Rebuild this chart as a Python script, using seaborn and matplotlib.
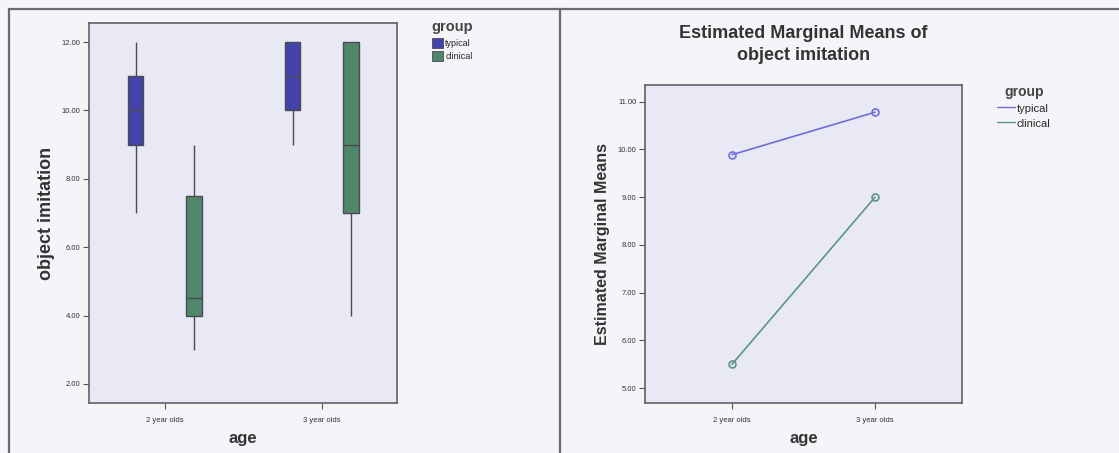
import numpy as np
import pandas as pd
import matplotlib
matplotlib.use("Agg")
import matplotlib.pyplot as plt
from matplotlib.patches import Patch
from matplotlib.lines import Line2D
from matplotlib.ticker import FormatStrFormatter
import seaborn as sns

# ---- data ----
ages = ["2 year olds", "3 year olds"]
groups = ["typical", "clinical"]

# five-number summaries (min, Q1, median, Q3, max) of object imitation
typical_2yo = [7, 9, 10, 11, 12]
clinical_2yo = [3, 4, 4.5, 7.5, 9]
typical_3yo = [9, 10, 11, 12, 12]
clinical_3yo = [4, 7, 9, 12, 12]

# estimated marginal means
typical_means = [9.89, 10.78]
clinical_means = [5.50, 9.00]

# ---- styling ----
sns.set_theme(style="white")
plt.rcParams["font.family"] = ["Liberation Sans", "DejaVu Sans"]

fig_bg = "#f5f5f9"
ax_bg = "#e9e9f5"
box_colors = {"typical": "#4343ab", "clinical": "#4f876b"}
line_colors = {"typical": "#6e6ed8", "clinical": "#5c948a"}
edge = "#4a4a52"

W, H = 1119, 453
fig = plt.figure(figsize=(W / 100, H / 100), dpi=100, facecolor=fig_bg)


def frac(x0, y0, x1, y1):
    return [x0 / W, 1 - y1 / H, (x1 - x0) / W, (y1 - y0) / H]


# panel frames
for xs, ys in [([9, W], [8.5, 8.5]), ([9, 9], [8.5, H]), ([560, 560], [8.5, H])]:
    fig.add_artist(Line2D([x / W for x in xs], [1 - y / H for y in ys],
                          color="#6a6a70", lw=1.6, transform=fig.transFigure))

# ---- left: box plot ----
box_df = pd.DataFrame({
    "age": [ages[0]] * 10 + [ages[1]] * 10,
    "group": ["typical"] * 5 + ["clinical"] * 5 + ["typical"] * 5 + ["clinical"] * 5,
    "score": typical_2yo + clinical_2yo + typical_3yo + clinical_3yo,
})

ax1 = fig.add_axes(frac(89, 23, 397, 403), facecolor=ax_bg)
sns.boxplot(data=box_df, x="age", y="score", hue="group", order=ages,
            hue_order=groups, palette=box_colors, width=0.74, gap=0.74,
            showcaps=False, linecolor=edge, linewidth=1.0, saturation=1,
            whis=1.5, legend=False, ax=ax1)
ax1.set_xlim(-0.484, 1.478)
ax1.set_ylim(1.44, 12.56)
ax1.set_yticks([2, 4, 6, 8, 10, 12])
ax1.yaxis.set_major_formatter(FormatStrFormatter("%.2f"))
ax1.set_xlabel("age", fontsize=12, fontweight="bold", color="#333333", labelpad=5)
ax1.set_ylabel("object imitation", fontsize=13, fontweight="bold", color="#333333", labelpad=5)

# ---- right: estimated marginal means ----
means_df = pd.DataFrame({
    "age": ages * 2,
    "group": ["typical"] * 2 + ["clinical"] * 2,
    "mean": typical_means + clinical_means,
})

ax2 = fig.add_axes(frac(645, 85, 962, 403), facecolor=ax_bg)
sns.pointplot(data=means_df, x="age", y="mean", hue="group", order=ages,
              hue_order=groups, palette=line_colors, errorbar=None,
              markers="o", markersize=5, linewidth=1.2, markerfacecolor="none",
              markeredgewidth=1.2, legend=False, ax=ax2)
ax2.set_xlim(-0.608, 1.608)
ax2.set_ylim(4.69, 11.35)
ax2.set_yticks([5, 6, 7, 8, 9, 10, 11])
ax2.yaxis.set_major_formatter(FormatStrFormatter("%.2f"))
ax2.set_xlabel("age", fontsize=12, fontweight="bold", color="#333333", labelpad=5)
ax2.set_ylabel("Estimated Marginal Means", fontsize=11.5, fontweight="bold",
               color="#333333", labelpad=6)
ax2.set_title("Estimated Marginal Means of\nobject imitation", fontsize=13,
              fontweight="bold", color="#333333", pad=18, linespacing=1.35)

for ax in (ax1, ax2):
    for s in ax.spines.values():
        s.set_color("#606066")
        s.set_linewidth(1.2)
    ax.tick_params(axis="both", which="major", direction="out", length=4,
                   width=0.8, color="#555555", labelsize=5.5,
                   labelcolor="#333333", left=True, bottom=True, pad=2)
    ax.tick_params(axis="x", pad=6)

# ---- legends ----
leg1 = fig.legend(handles=[Patch(facecolor=box_colors[g], edgecolor=edge, lw=0.6, label=g)
                           for g in groups],
                  title="group", loc="upper left", bbox_to_anchor=(425 / W, 1 - 14 / H),
                  frameon=False, fontsize=6.5, title_fontproperties={"weight": "bold", "size": 10.5},
                  handlelength=1.2, handleheight=1.3, handletextpad=0.3, labelspacing=0.4,
                  borderpad=0.2)
leg1.get_title().set_color("#444444")

leg2 = fig.legend(handles=[Line2D([], [], color=line_colors[g], lw=1.0, label=g) for g in groups],
                  title="group", loc="upper left", bbox_to_anchor=(988 / W, 1 - 76 / H),
                  frameon=False, fontsize=8, title_fontproperties={"weight": "bold", "size": 10},
                  handlelength=1.6, handleheight=1.2, handletextpad=0.1, labelspacing=0.3,
                  borderpad=0.35)
leg2.get_title().set_color("#444444")

fig.savefig("out.png", dpi=100, facecolor=fig_bg)
